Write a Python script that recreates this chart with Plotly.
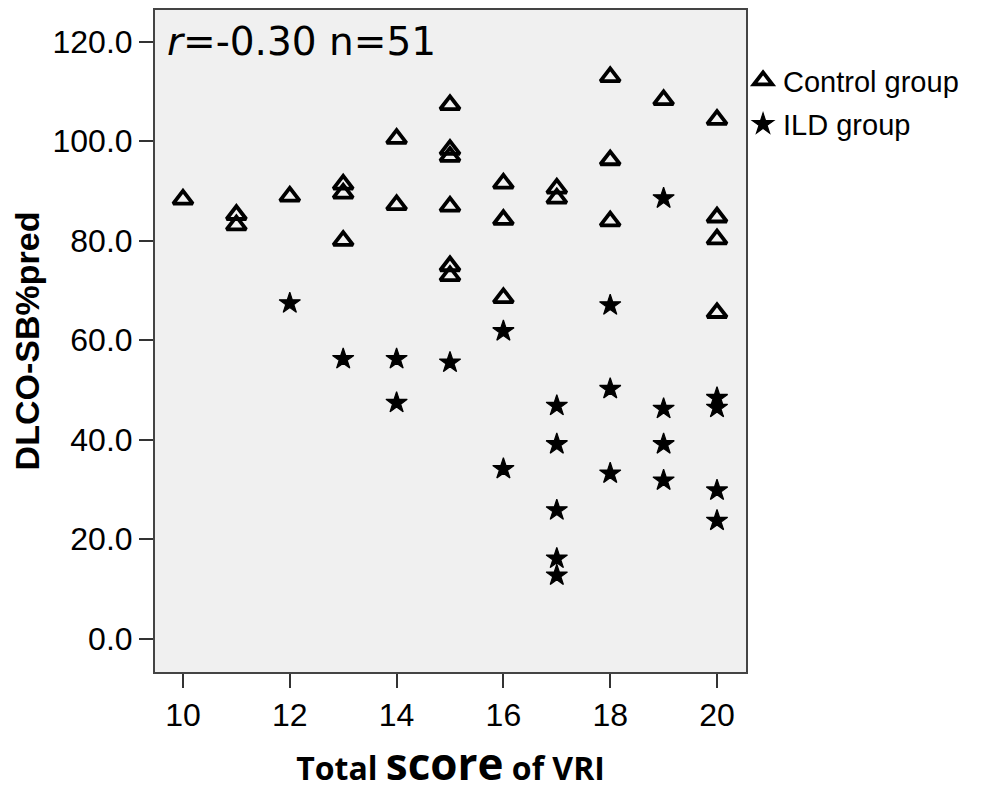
import plotly.graph_objects as go

# Control group (triangles)
control_x = [10, 11, 11, 12, 13, 13, 13, 14, 14,
             15, 15, 15, 15, 15, 15, 16, 16, 16,
             17, 17, 18, 18, 18, 19, 20, 20, 20, 20]
control_y = [88.3, 85.2, 83.1, 88.9, 91.3, 89.5, 80.0, 100.5, 87.2,
             107.3, 98.3, 96.9, 86.9, 74.9, 72.9, 91.5, 84.2, 68.5,
             90.5, 88.5, 112.9, 96.2, 83.9, 108.3, 104.3, 84.7, 80.3, 65.5]

# ILD group (stars)
ild_x = [12, 13, 14, 14, 15, 16, 16, 17, 17, 17, 17, 17,
         18, 18, 18, 19, 19, 19, 19, 20, 20, 20, 20]
ild_y = [67.4, 56.2, 56.2, 47.4, 55.5, 61.8, 34.1, 46.8, 39.1, 25.8, 16.1, 12.7,
         67.0, 50.2, 33.2, 88.5, 46.2, 39.1, 31.8, 48.4, 46.4, 29.8, 23.7]

y_ticks = [0, 20, 40, 60, 80, 100, 120]
y_tick_text = ["0.0", "20.0", "40.0", "60.0", "80.0", "100.0", "120.0"]
x_ticks = [10, 12, 14, 16, 18, 20]

fig = go.Figure()
fig.add_trace(go.Scatter(
    x=control_x, y=control_y, mode="markers", name="Control group",
    legendgroup="c",
    marker=dict(symbol="triangle-up-open", size=17, color="black",
                line=dict(width=3.8, color="black")),
))
fig.add_trace(go.Scatter(
    x=ild_x, y=ild_y, mode="markers", name="ILD group",
    legendgroup="i",
    marker=dict(symbol="star", size=16, color="black",
                line=dict(width=1.2, color="black")),
))

fig.add_annotation(
    x=0.017, y=0.952, xref="paper", yref="paper", xanchor="left", yanchor="middle",
    text="<i>r</i>=-0.30 n=51", showarrow=False,
    font=dict(family="DejaVu Sans", size=39, color="black"),
)

fig.update_layout(
    width=982, height=785,
    paper_bgcolor="white", plot_bgcolor="#f0f0f0",
    margin=dict(l=147, r=244, t=0, b=121),
    showlegend=True,
    legend=dict(x=0.995, y=0.932, xanchor="left", yanchor="top",
                font=dict(family="Liberation Sans", size=29, color="black"),
                bgcolor="rgba(0,0,0,0)", tracegroupgap=3, itemwidth=30,
                traceorder="grouped"),
    xaxis=dict(
        range=[9.476, 20.543], tickvals=x_ticks, ticktext=[str(v) for v in x_ticks],
        ticks="outside", ticklen=14, tickwidth=2, tickcolor="#333",
        showline=True, linecolor="#444", linewidth=2, mirror=True,
        showgrid=False, zeroline=False,
        tickfont=dict(family="Liberation Sans", size=32, color="black"),
        title=dict(text="<b>Total <span style='font-size:44px'>score</span> of VRI</b>",
                   font=dict(family="Open Sans", size=32, color="black"), standoff=16),
    ),
    yaxis=dict(
        range=[-6.7, 126.35], tickvals=y_ticks, ticktext=y_tick_text,
        ticks="outside", ticklen=14, tickwidth=2, tickcolor="#333",
        showline=True, linecolor="#444", linewidth=2, mirror=True,
        showgrid=False, zeroline=False,
        tickfont=dict(family="Liberation Sans", size=32, color="black"),
        title=dict(text="<b>DLCO-SB%pred</b>",
                   font=dict(family="Liberation Sans", size=34, color="black"), standoff=12),
    ),
)

fig.write_html("out.html")
